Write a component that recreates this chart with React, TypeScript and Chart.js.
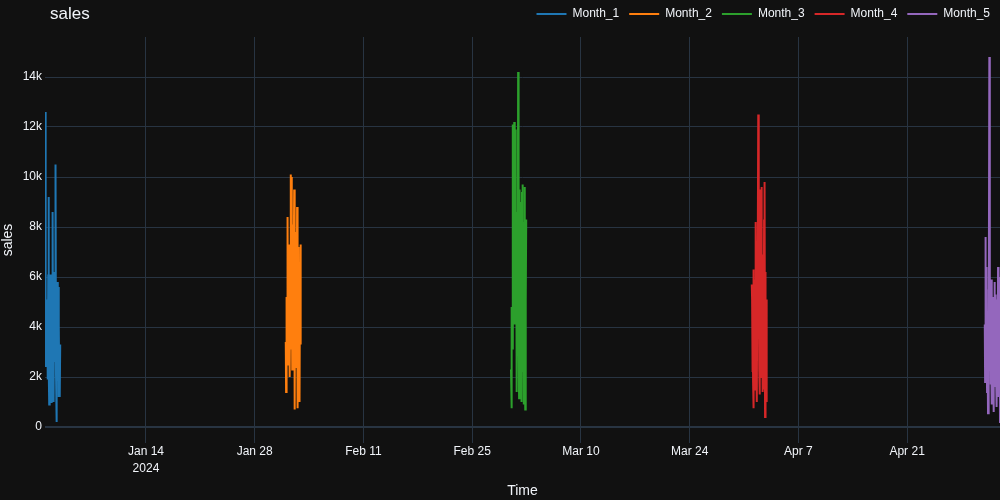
import { useEffect, useRef } from "react";
import { Chart, registerables } from "chart.js";

Chart.register(...registerables);

const HOUR = 3600 * 1000;

// one series per month, each one holds 48 hourly readings from the 1st of the month
const seriesNames = ["Month_1", "Month_2", "Month_3", "Month_4", "Month_5"];
const monthStarts = ["2024-01-01", "2024-02-01", "2024-03-01", "2024-04-01", "2024-05-01"];
const colors = ["#1f77b4", "#ff7f0e", "#2ca02c", "#d62728", "#9467bd"];

const month1 = [
  3600, 2400, 12600, 4800, 3500, 5100, 2500, 4200, 5100, 1900, 6100, 9200,
  2300, 900, 6000, 4300, 1800, 6100, 3500, 1000, 5200, 4000, 1900, 6000,
  8600, 2000, 5600, 1000, 4800, 6200, 2600, 5000, 3700, 10500, 2100, 5700,
  200, 4900, 1900, 5800, 2900, 5600, 1200, 4100, 1900, 3300, 1200, 3300,
];
const month2 = [
  3400, 1400, 2800, 5200, 3300, 7900, 8400, 2500, 6800, 4100, 7300, 2200,
  5600, 2000, 6300, 10100, 3100, 10000, 4300, 7600, 2300, 6900, 3800, 8100,
  2600, 6400, 9500, 3200, 700, 7800, 3900, 6100, 2400, 7000, 3300, 8800,
  4200, 750, 6500, 2900, 7200, 3600, 5900, 1000, 6200, 7300, 3300, 3500,
];
const month3 = [
  2300, 2600, 750, 4800, 3200, 12100, 3100, 11800, 6200, 5400, 12200, 4100,
  7400, 9800, 11900, 5200, 8600, 1400, 7900, 4200, 6500, 3100, 14200, 9100,
  3200, 1150, 9500, 5900, 8300, 3400, 9000, 5200, 6800, 1000, 9400, 4400,
  9700, 2200, 7300, 900, 8200, 3800, 9600, 2600, 700, 8300, 5100, 8300,
];
const month4 = [
  5700, 5100, 2200, 5600, 1800, 6300, 750, 5900, 3100, 4800, 1500, 7100,
  3600, 8200, 2400, 6000, 1000, 5400, 3900, 7400, 12500, 4100, 6900, 2300,
  5800, 1300, 9500, 3700, 6400, 2000, 9600, 4500, 6900, 1400, 5200, 2700,
  6100, 1500, 8300, 3200, 9800, 400, 6200, 2800, 5100, 1000, 4900, 4100,
];
const month5 = [
  4100, 1800, 7600, 3600, 6400, 2500, 5300, 1400, 4600, 3100, 550, 5500,
  3900, 2300, 14800, 4200, 2900, 5100, 1700, 4400, 2600, 5900, 900, 3800,
  1900, 5200, 3300, 600, 4700, 2700, 5800, 1600, 4500, 3800, 5300, 2100,
  4100, 800, 3600, 5100, 2200, 6400, 3000, 1200, 4800, 2100, 6000, 160,
];
const monthValues = [month1, month2, month3, month4, month5];

const xTickDates = ["2024-01-14", "2024-01-28", "2024-02-11", "2024-02-25", "2024-03-10", "2024-03-24", "2024-04-07", "2024-04-21"];
const xTickLabels = [["Jan 14", "2024"], "Jan 28", "Feb 11", "Feb 25", "Mar 10", "Mar 24", "Apr 7", "Apr 21"];
const yTicks = [0, 2000, 4000, 6000, 8000, 10000, 12000, 14000];

const FONT = "'Liberation Sans', Arial, sans-serif";
const TEXT = "#f2f5fa";
const GRID = "#283442";

// the plot title sits on the same row as the legend, so it is painted by hand
const titlePlugin = {
  id: "plotTitle",
  beforeLayout(chart: any) {
    // stretch the legend box so the plot starts where it does in the original
    const lg = chart.legend;
    if (lg && !lg._patched) {
      const fit = lg.fit.bind(lg);
      lg.fit = () => {
        fit();
        lg.height = 39;
      };
      lg._patched = true;
    }
  },
  afterDraw(chart: any) {
    const ctx = chart.ctx;
    ctx.save();
    ctx.font = `17px ${FONT}`;
    ctx.fillStyle = TEXT;
    ctx.textAlign = "left";
    ctx.textBaseline = "middle";
    ctx.fillText("sales", 50, 14);
    ctx.restore();
  },
};

export default function App() {
  const canvasRef = useRef<HTMLCanvasElement | null>(null);

  useEffect(() => {
    if (!canvasRef.current) return;

    const datasets = seriesNames.map((name, s) => {
      const start = Date.parse(monthStarts[s]);
      return {
        label: name,
        data: monthValues[s].map((v, i) => ({ x: start + i * HOUR, y: v })),
        borderColor: colors[s],
        backgroundColor: colors[s],
        borderWidth: 2,
        pointRadius: 0,
        tension: 0,
      };
    });

    const xMin = Date.parse(monthStarts[0]);
    const xMax = Date.parse(monthStarts[monthStarts.length - 1]) + (month5.length - 1) * HOUR;

    const chart = new Chart(canvasRef.current, {
      type: "line",
      data: { datasets },
      options: {
        animation: false,
        responsive: false,
        events: [],
        layout: { padding: { top: -2, left: 0, right: 0, bottom: 0 } },
        plugins: {
          tooltip: { enabled: false },
          legend: {
            position: "top",
            align: "end",
            labels: {
              color: TEXT,
              font: { family: FONT, size: 12 },
              usePointStyle: true,
              pointStyle: "line",
              pointStyleWidth: 30,
              padding: 10,
            },
          },
        },
        scales: {
          x: {
            type: "linear",
            min: xMin,
            max: xMax,
            afterBuildTicks: (scale: any) => {
              scale.ticks = xTickDates.map((d) => ({ value: Date.parse(d) }));
            },
            afterFit: (scale: any) => {
              scale.height = 57;
            },
            ticks: {
              autoSkip: false,
              maxRotation: 0,
              padding: 1,
              color: TEXT,
              font: { family: FONT, size: 12, lineHeight: 1.35 },
              callback: (_v: any, i: number) => xTickLabels[i],
            },
            grid: { color: GRID, drawTicks: false },
            border: { display: false },
            title: {
              display: true,
              text: "Time",
              color: TEXT,
              font: { family: FONT, size: 14 },
              padding: 0,
            },
          },
          y: {
            min: -640,
            max: 15600,
            afterBuildTicks: (scale: any) => {
              scale.ticks = yTicks.map((v) => ({ value: v }));
            },
            afterFit: (scale: any) => {
              scale.width = 45;
            },
            ticks: {
              padding: 3,
              color: TEXT,
              font: { family: FONT, size: 12 },
              callback: (v: any) => (v === 0 ? "0" : v / 1000 + "k"),
            },
            grid: {
              color: GRID,
              drawTicks: false,
              lineWidth: (c: any) => (c.tick && c.tick.value === 0 ? 2 : 1),
            },
            border: { display: false },
            title: {
              display: true,
              text: "sales",
              color: TEXT,
              font: { family: FONT, size: 14 },
              padding: 0,
            },
          },
        },
      },
      plugins: [titlePlugin],
    });

    return () => {
      chart.destroy();
    };
  }, []);

  return (
    <div style={{ position: "fixed", left: 0, top: 0, width: 1000, height: 500, background: "#111111" }}>
      <canvas ref={canvasRef} width={1000} height={500}></canvas>
    </div>
  );
}
